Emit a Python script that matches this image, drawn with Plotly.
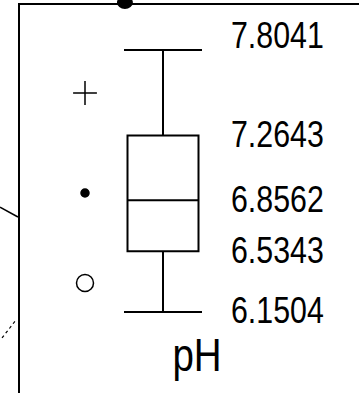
import plotly.graph_objects as go

# five-number summary for pH
stat_names = ["min", "q1", "median", "q3", "max"]
stat_values = [6.1504, 6.5343, 6.8562, 7.2643, 7.8041]
label_texts = ["6.1504", "6.5343", "6.8562", "7.2643", "7.8041"]

# symbols shown left of the box
symbol_names = ["cross-thin-open", "circle", "circle-open"]
symbol_values = [7.5327, 6.9015, 6.3334]
symbol_sizes = [17, 8, 17]

box_x = 0
symbol_x = -0.78
label_x = 0.66
y_min, y_max = 5.6391, 8.0881

fig = go.Figure()

# box + whiskers
fig.add_trace(go.Box(
    x=[box_x], q1=[stat_values[1]], median=[stat_values[2]], q3=[stat_values[3]],
    lowerfence=[stat_values[0]], upperfence=[stat_values[4]],
    width=0.71, whiskerwidth=1,
    fillcolor="rgba(0,0,0,0)", line=dict(color="black", width=2),
    hoverinfo="skip", showlegend=False,
))

# whisker caps (a bit wider than the box)
for v in [stat_values[0], stat_values[4]]:
    fig.add_trace(go.Scatter(
        x=[box_x - 0.39, box_x + 0.39], y=[v, v], mode="lines",
        line=dict(color="black", width=2), hoverinfo="skip", showlegend=False,
    ))

# marker symbols
for sym, v, s in zip(symbol_names, symbol_values, symbol_sizes):
    fig.add_trace(go.Scatter(
        x=[symbol_x], y=[v], mode="markers",
        marker=dict(symbol=sym, size=s, color="black",
                    line=dict(color="black", width=1.5)),
        hoverinfo="skip", showlegend=False,
    ))

font_lbl = dict(family="Liberation Sans, Arial, sans-serif", size=37, color="black")

for t, v in zip(label_texts, stat_values):
    fig.add_annotation(
        x=label_x, y=v, text=t, showarrow=False,
        xanchor="left", yanchor="middle", font=font_lbl,
        yshift=14 if t == "7.8041" else 1,
    )

fig.add_annotation(
    xref="x", yref="paper", x=0.34, y=0.098, text="pH", showarrow=False,
    xanchor="center", yanchor="middle",
    font=dict(family=font_lbl["family"], size=47, color="black"),
)

# scan marks outside the frame
fig.add_shape(type="circle", xref="paper", yref="paper",
              x0=0.286, x1=0.333, y0=0.99, y1=1.023,
              fillcolor="black", line=dict(color="black", width=0))
fig.add_shape(type="line", xref="paper", yref="paper",
              x0=-0.059, y0=0.479, x1=-0.006, y1=0.4536,
              line=dict(color="black", width=1.5))
fig.add_shape(type="line", xref="paper", yref="paper",
              x0=-0.053, y0=0.1418, x1=-0.012, y1=0.188,
              line=dict(color="black", width=1.2, dash="dot"))

fig.update_layout(
    width=359, height=393,
    margin=dict(l=20, r=0, t=5, b=0),
    paper_bgcolor="white", plot_bgcolor="white",
    xaxis=dict(range=[-1.43, 1.96], showline=True, side="top", linecolor="black",
               linewidth=2, showgrid=False, zeroline=False, showticklabels=False,
               ticks=""),
    yaxis=dict(range=[y_min, y_max], showline=True, linecolor="black", linewidth=2,
               showgrid=False, zeroline=False, showticklabels=False, ticks=""),
)

# no page margin; the scan uses a narrow (condensed) face, so squeeze the labels
js = """
document.body.style.margin = '0';
document.querySelectorAll('text.annotation-text').forEach(function (el) {
    el.style.transformBox = 'fill-box';
    el.style.transformOrigin = el.textContent === 'pH' ? '50% 50%' : '0% 50%';
    el.style.transform = 'scaleX(0.82)';
});
"""
fig.write_html("out.html", post_script=js, config={"displayModeBar": False})
